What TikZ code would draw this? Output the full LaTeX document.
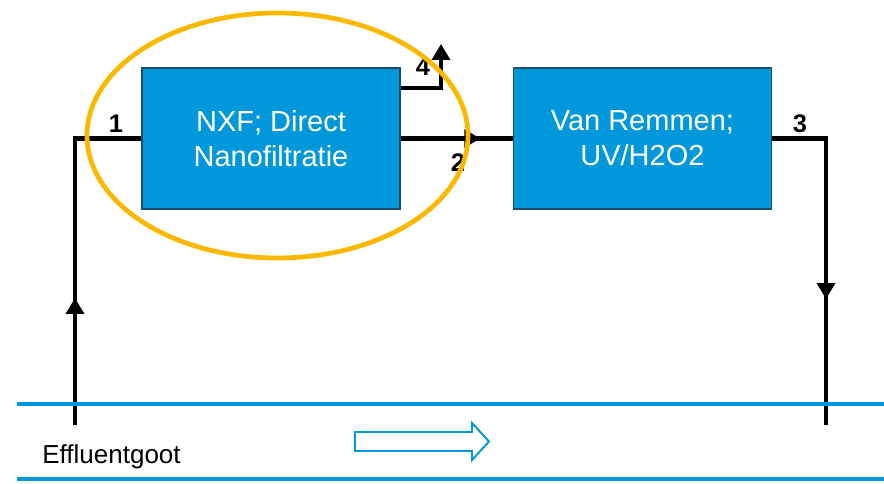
\documentclass[tikz,border=0pt]{standalone}
\usepackage{fontspec}
\setmainfont{Liberation Sans}
\usepackage{xcolor}
\usetikzlibrary{positioning,arrows.meta,decorations.markings,shapes.geometric}

\definecolor{unitblue}{RGB}{0,152,218}
\definecolor{unitedge}{RGB}{30,75,110}
\definecolor{ringorange}{RGB}{250,185,0}

\begin{document}
\begin{tikzpicture}[
    font=\fontsize{16.5}{20}\selectfont,
    >={Triangle[length=9pt,width=10pt]},
    node distance=2.24cm,
    unit/.style={
        draw=unitedge,
        fill=unitblue,
        text=white,
        align=center,
        line width=0.8pt,
        minimum width=5.16cm,
        minimum height=2.82cm,
        inner sep=0pt
    },
    pipe/.style={line width=2.7pt},
    midarrow/.style={postaction={decorate},
        decoration={markings, mark=at position #1 with {\arrow{>}}}},
    tag/.style={font=\fontsize{14.5}{16}\selectfont\bfseries, inner sep=0pt},
    water/.style={draw=unitblue, line width=2.1pt}
]
\useasboundingbox (0,0) rectangle (17.68,9.68);

\node[unit] (nxf) at (5.42,6.91) {NXF; Direct\\Nanofiltratie};
\node[unit, right=of nxf] (uv) {Van Remmen;\\UV/H2O2};

\coordinate (inlet) at (1.5,1.18);
\coordinate (outlet) at (16.52,1.18);
\coordinate (reject) at (8.82,8.8);

\draw[pipe, midarrow=0.36] (inlet) |- (nxf.west);
\draw[pipe, midarrow=0.71] (nxf.east) -- (uv.west);
\draw[pipe, ->] ([yshift=1.01cm]nxf.east) -| (reject);
\draw[pipe, midarrow=0.63] (uv.east) -| (outlet);

\node[tag] (t1) at (2.32,7.2) {1};
\node[tag] (t2) at (9.16,6.42) {2};
\node[tag] (t3) at (16.0,7.2) {3};
\node[tag] (t4) at (8.46,8.34) {4};

% focus on the NXF step
\node[draw=ringorange, line width=2.7pt, ellipse, minimum width=7.62cm, minimum height=4.9cm] (focus) at (5.55,6.97) {};

% effluent channel
\draw[water] (0.34,1.6) -- (17.68,1.6);
\draw[water] (0.34,0.1) -- (17.68,0.1);
\draw[draw=unitblue, line width=1.1pt, fill=white] (7.1,0.66) -- (9.44,0.66) -- (9.44,0.48) -- (9.78,0.85) -- (9.44,1.22) -- (9.44,1.04) -- (7.1,1.04) -- cycle;
\node[anchor=base west, inner sep=0pt, font=\fontsize{14.8}{17}\selectfont] (goot) at (0.84,0.4) {Effluentgoot};
\end{tikzpicture}
\end{document}
